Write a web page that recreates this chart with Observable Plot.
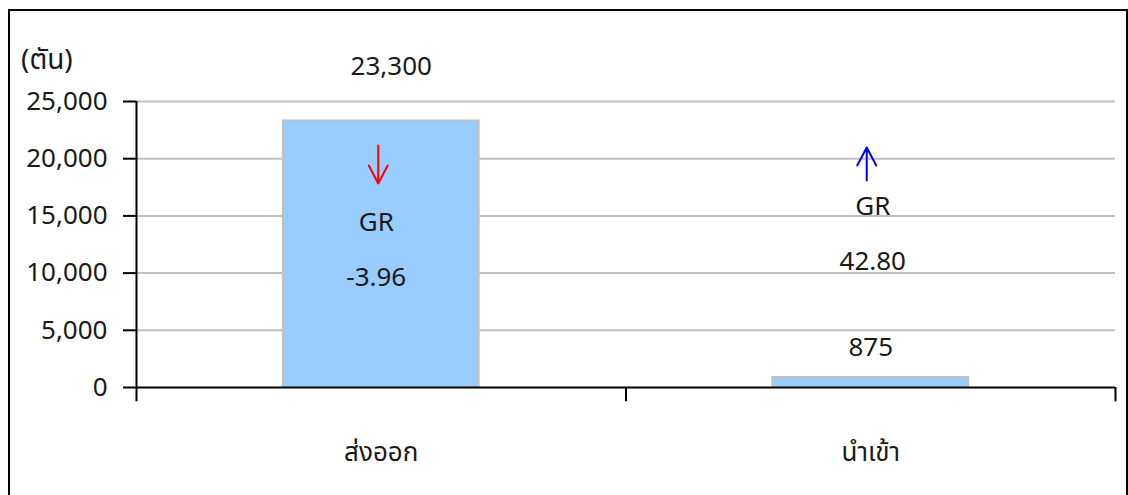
<!DOCTYPE html>
<html>
<head>
<meta charset="utf-8">
<script src="https://cdn.jsdelivr.net/npm/d3@7"></script>
<script src="https://cdn.jsdelivr.net/npm/@observablehq/plot@0.6"></script>
<style>
  html, body { margin: 0; padding: 0; background: #fff; }
  #wrap { position: relative; width: 1128px; height: 495px; overflow: hidden; background: #fff; }
  #border { position: absolute; left: 8px; top: 9px; width: 1120px; height: 520px; border: 2px solid #000; box-sizing: border-box; pointer-events: none; }
  #unit { position: absolute; left: 21px; top: 41px; font-size: 28px; color: #1a1a1a; font-family: "Noto Sans Thai", "Noto Sans", "Noto Sans Thai UI", Loma, Garuda, sans-serif; line-height: 40px; }
  #chart { position: absolute; left: 0; top: 0; }
</style>
</head>
<body>
<div id="wrap">
  <div id="chart"></div>
  <div id="unit">(ตัน)</div>
  <div id="border"></div>
</div>
<script>
const categories = ["ส่งออก", "นำเข้า"];
const tons = [23300, 875];
const growth = [-3.96, 42.80];
const yTicks = [0, 5000, 10000, 15000, 20000, 25000];

const rows = categories.map((c, i) => ({ category: c, index: i, tons: tons[i], growth: growth[i] }));
const fmtComma = d3.format(",");
const fmtGR = d3.format(".2f");

// custom arrow shape for Plot.vector: shaft with long wings at the tip
const bigArrow = {
  draw(context, l) {
    const wx = 9.5, wy = 18;
    context.moveTo(0, 0);
    context.lineTo(0, -l);
    context.moveTo(-wx, -l + wy);
    context.lineTo(0, -l);
    context.lineTo(wx, -l + wy);
  }
};

const font = '"Noto Sans Thai", "Noto Sans", "Noto Sans Thai UI", Loma, Garuda, sans-serif';
const ink = "#1a1a1a";

const chart = Plot.plot({
  width: 1128,
  height: 495,
  marginLeft: 136,
  marginRight: 13,
  marginTop: 101,
  marginBottom: 108,
  style: { fontFamily: font, fontSize: "26px", color: ink, background: "transparent", overflow: "visible" },
  x: { domain: [0, categories.length], axis: null },
  y: { domain: [0, 25000], axis: null },
  marks: [
    Plot.ruleY(yTicks.filter(d => d > 0), { stroke: "#c0c0c0", strokeWidth: 2 }),
    Plot.rectY(rows, { x1: d => d.index + 0.3, x2: d => d.index + 0.7, y1: 0, y2: "tons", fill: "#99ccff", stroke: "#c0c0c0", strokeWidth: 2 }),
    Plot.ruleY([0], { stroke: "#000", strokeWidth: 2 }),
    Plot.ruleX([0], { y1: -1250, y2: 25000, stroke: "#000", strokeWidth: 2 }),
    Plot.ruleX(d3.range(1, categories.length + 1), { y1: -1250, y2: 0, stroke: "#000", strokeWidth: 2 }),
    Plot.axisY({ ticks: yTicks, label: null, tickSize: 13, tickPadding: 16, tickFormat: fmtComma, stroke: "#000", strokeWidth: 2, fill: ink, fontSize: 26 }),
    Plot.axisX({ ticks: categories.map((c, i) => i + 0.5), label: null, tickSize: 0, tickPadding: 55, tickFormat: d => categories[Math.floor(d)], fill: ink, fontSize: 26 }),
    // value labels
    Plot.text(rows.filter(d => d.index === 0), { x: d => d.index + 0.5, y: "tons", text: d => fmtComma(d.tons), dy: -54, dx: 10, fontSize: 26, fill: ink }),
    Plot.text(rows.filter(d => d.index === 1), { x: d => d.index + 0.5, y: "tons", text: d => fmtComma(d.tons), dy: -30, fontSize: 26, fill: ink }),
    // growth-rate annotations
    Plot.text(rows.filter(d => d.index === 0), { x: d => d.index + 0.5, y: 12790, text: d => "GR\n" + fmtGR(d.growth), lineHeight: 2.1, dx: -5, fontSize: 26, fill: ink }),
    Plot.text(rows.filter(d => d.index === 1), { x: d => d.index + 0.5, y: 14190, text: d => "GR\n" + fmtGR(d.growth), lineHeight: 2.1, dx: 2, fontSize: 26, fill: ink }),
    // arrows
    Plot.vector(rows.filter(d => d.growth < 0), { x: d => d.index + 0.5, y: 21150, dx: -3, anchor: "start", rotate: 180, length: 38, shape: bigArrow, stroke: "#ff0000", strokeWidth: 2 }),
    Plot.vector(rows.filter(d => d.growth >= 0), { x: d => d.index + 0.5, y: 18100, dx: -4, anchor: "start", rotate: 0, length: 33, shape: bigArrow, stroke: "#0000ff", strokeWidth: 2 })
  ]
});
document.getElementById("chart").appendChild(chart);
</script>
</body>
</html>
